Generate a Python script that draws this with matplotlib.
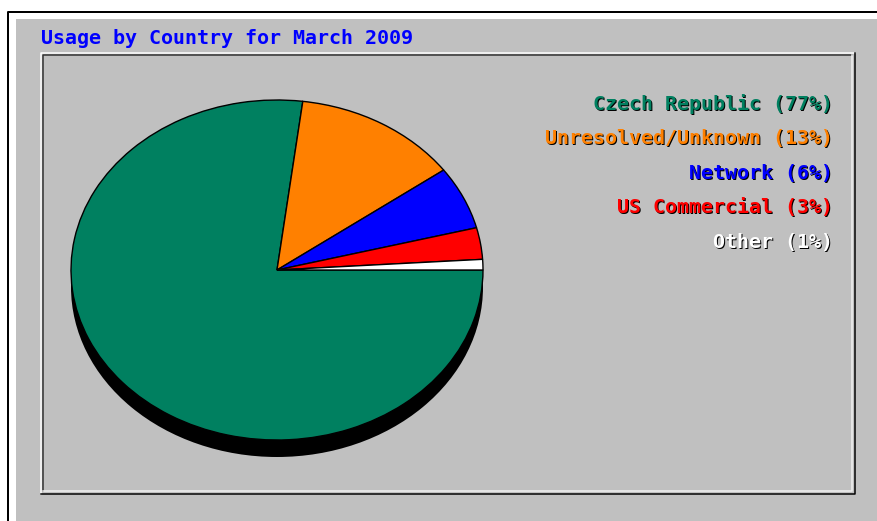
import matplotlib
matplotlib.use('Agg')
import matplotlib.pyplot as plt
from matplotlib.patches import Rectangle, Ellipse

title = "Usage by Country for March 2009"
countries = ["Czech Republic", "Unresolved/Unknown", "Network", "US Commercial", "Other"]
percents = [77, 13, 6, 3, 1]
colors = ["#008060", "#ff8000", "#0000ff", "#ff0000", "#ffffff"]

W, H = 877, 521
fig = plt.figure(figsize=(W / 100, H / 100), dpi=100, facecolor="white")

# background axes in pixel coordinates
bg = fig.add_axes([0, 0, 1, 1], zorder=0)
bg.set_xlim(0, W)
bg.set_ylim(H, 0)
bg.axis('off')

px = 0.72  # one pixel in points
bg.add_patch(Rectangle((16, 19), W - 16, H - 19, facecolor="#c0c0c0", edgecolor="none"))
bg.plot([8, 8, W], [H, 12, 12], color="black", lw=2 * px, solid_capstyle='butt')

# bevelled panel
x0, y0, x1, y1 = 41, 53, 855, 494
bg.plot([x0, x0, x1], [y1, y0, y0], color="white", lw=1.5 * px)
bg.plot([x0, x1, x1], [y1, y1, y0], color="black", lw=1.5 * px)
bg.plot([x0 + 2, x0 + 2, x1 - 3], [y1 - 3, y0 + 2, y0 + 2], color="#303030", lw=1.5 * px)
bg.plot([x0 + 2, x1 - 3, x1 - 3], [y1 - 3, y1 - 3, y0 + 2], color="#f0f0f0", lw=1.5 * px)

font = dict(family="DejaVu Sans Mono", fontweight="bold", fontsize=14.4)
bg.text(41, 38, title, color="#0000ff", va="center", ha="left", **font)

for i, (name, p, c) in enumerate(zip(countries, percents, colors)):
    y = 104 + i * 34.6
    label = f"{name} ({p}%)"
    bg.text(834, y + 1, label, color="black", va="center", ha="right", **font)
    bg.text(833, y, label, color=c, va="center", ha="right", **font)

# pie drawn as an ellipse: centre (277, 270), rx 206, ry 170
cx, cy, rx, ry = 277, 270, 206, 170
ax = fig.add_axes([(cx - rx) / W, (H - cy - ry) / H, 2 * rx / W, 2 * ry / H], zorder=1)
ax.patch.set_visible(False)
ax.add_patch(Ellipse((0, -17 / ry), 2, 2, facecolor="black", edgecolor="none", clip_on=False, zorder=0))
wedges, _ = ax.pie(percents, colors=colors, startangle=0, counterclock=False,
                   wedgeprops=dict(edgecolor="black", linewidth=1.0))
for w in wedges:
    w.set_clip_on(False)
ax.set_aspect('auto')
ax.set_xlim(-1, 1)
ax.set_ylim(-1, 1)
ax.axis('off')

fig.savefig("out.png", dpi=100, facecolor="white")
